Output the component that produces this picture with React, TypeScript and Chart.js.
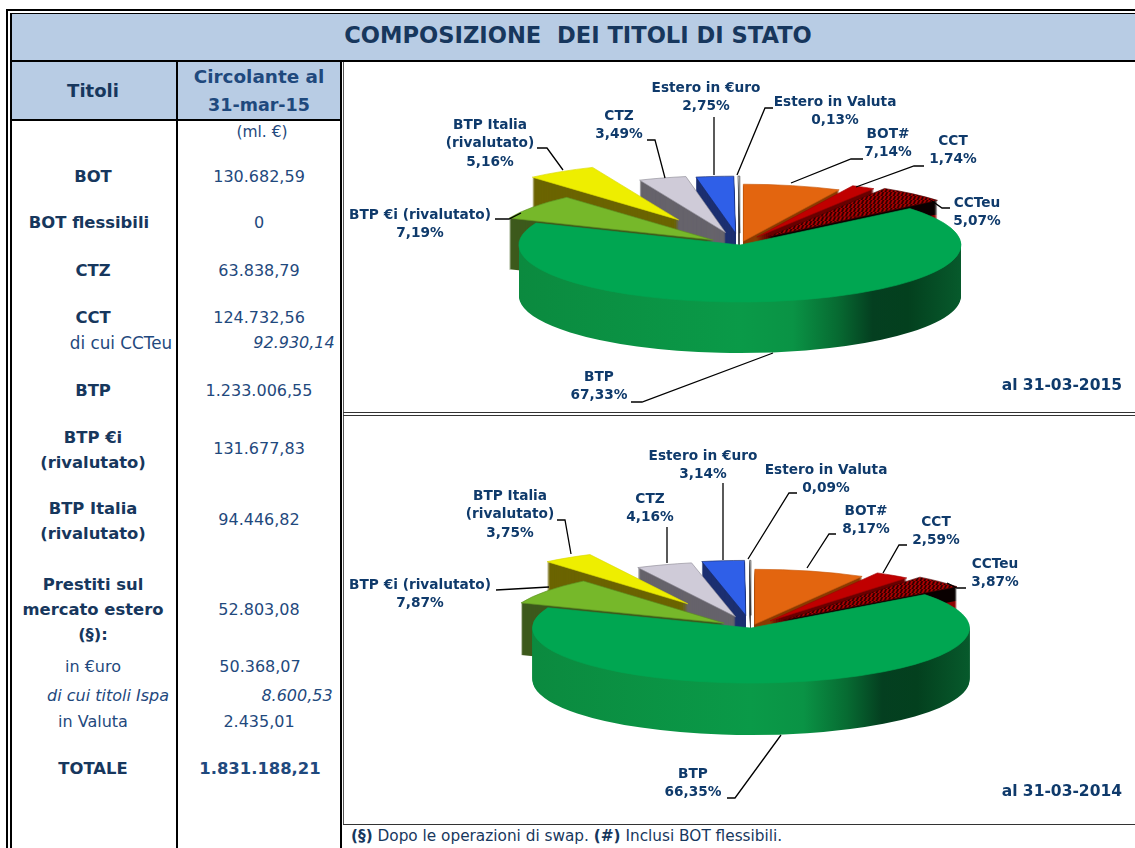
import React, { useEffect, useRef } from "react";
import { Chart, registerables } from "chart.js";

Chart.register(...registerables);

// ---- data ----
const sliceNames = ["BTP €i (rivalutato)", "BTP Italia (rivalutato)", "CTZ", "Estero in €uro", "Estero in Valuta", "BOT#", "CCT", "CCTeu", "BTP"];
const shares2015 = [7.19, 5.16, 3.49, 2.75, 0.13, 7.14, 1.74, 5.07, 67.33];
const shares2014 = [7.87, 3.75, 4.16, 3.14, 0.09, 8.17, 2.59, 3.87, 66.35];
const sliceLabels2015 = ["7,19%", "5,16%", "3,49%", "2,75%", "0,13%", "7,14%", "1,74%", "5,07%", "67,33%"];
const sliceLabels2014 = ["7,87%", "3,75%", "4,16%", "3,14%", "0,09%", "8,17%", "2,59%", "3,87%", "66,35%"];
const labelLines = [["BTP €i (rivalutato)"], ["BTP Italia", "(rivalutato)"], ["CTZ"], ["Estero in €uro"], ["Estero in Valuta"], ["BOT#"], ["CCT"], ["CCTeu"], ["BTP"]];

// ---- table ----
const tableTitle = "COMPOSIZIONE  DEI TITOLI DI STATO";
const footParts = [["(§)", true], [" Dopo le operazioni di swap. ", false], ["(#)", true], [" Inclusi BOT flessibili.", false]] as [string, boolean][];
// text, centre x, centre y, kind
const rowNames: [string, number, number, string][] = [
  ["BOT", 93, 176, "b"], ["BOT flessibili", 89, 222, "b"], ["CTZ", 93, 270, "b"], ["CCT", 93, 317, "b"],
  ["di cui CCTeu", 121, 342, "w"], ["BTP", 93, 390, "b"], ["BTP €i", 93, 437, "b"], ["(rivalutato)", 93, 462, "b"],
  ["BTP Italia", 93, 508, "b"], ["(rivalutato)", 93, 533, "b"], ["Prestiti sul", 93, 584, "b"], ["mercato estero", 93, 609, "b"],
  ["(§):", 93, 634, "b"], ["in €uro", 93, 666, "n"], ["di cui titoli Ispa", 108, 695, "i"], ["in Valuta", 93, 721, "n"], ["TOTALE", 93, 768, "b"],
];
const rowValues: [string, number, number, string][] = [
  ["(ml. €)", 262, 132, "s"], ["130.682,59", 259, 176, "n"], ["0", 259, 222, "n"], ["63.838,79", 259, 270, "n"], ["124.732,56", 259, 317, "n"],
  ["92.930,14", 294, 342, "i"], ["1.233.006,55", 259, 390, "n"], ["131.677,83", 259, 448, "n"], ["94.446,82", 259, 519, "n"],
  ["52.803,08", 259, 609, "n"], ["50.368,07", 260, 666, "n"], ["8.600,53", 297, 695, "i"], ["2.435,01", 259, 721, "n"], ["1.831.188,21", 260, 768, "bv"],
];

// ---- drawing configuration ----
const topColors = ["#76b82a", "#eeee00", "#cfcbd8", "#2f5fe8", "#ffffff", "#e3650f", "#c00000", "#c00000", "#00a651"];
const wallColors = ["#3d5a1c", "#6b6400", "#66636b", "#1c2f70", "#555555", "#8a3b00", "#6a0000", "#8e0000", "#00a651"];
const borderColors = ["#5c8f20", "#d8d800", "#8d8a95", "#14286b", "#222222", "#c85a0d", "#a00000", "#500000", "#00a651"];

const panel2015 = {
  originX: 344, originY: 63, width: 791, height: 349,
  cx: 740, cy: 245, r: 221, squash: 0.258, depth: 51,
  explode: [33, 115, 50, 46, 46, 15, 35, 42, 0],
  date: "al 31-03-2015", dateY: 386,
  labelX: [420, 490, 619, 706, 835, 888, 953, 977, 599],
  labelY: [215, 125, 116, 88, 102, 134, 141, 203, 377],
  leaders: [
    [[495, 219], [509, 219], [521, 213]], [[537, 148], [547, 148], [563, 170]], [[647, 140], [655, 140], [665, 178]],
    [[714, 117], [714, 175]], [[773, 108], [765, 108], [737, 175]], [[863, 159], [851, 159], [791, 183]],
    [[924, 166], [914, 166], [856, 187]], [[950, 208], [942, 208], [932, 201]], [[631, 402], [642, 402], [773, 353]],
  ],
};
const panel2014 = {
  originX: 344, originY: 416, width: 791, height: 408,
  cx: 751, cy: 628, r: 218.5, squash: 0.252, depth: 52,
  explode: [33, 115, 47, 50, 50, 15, 34, 45, 0],
  date: "al 31-03-2014", dateY: 792,
  labelX: [420, 510, 650, 703, 826, 866, 936, 995, 693],
  labelY: [585, 496, 499, 456, 470, 511, 522, 564, 774],
  leaders: [
    [[496, 590], [549, 587]], [[557, 520], [565, 520], [571, 554]], [[667, 527], [667, 563]],
    [[723, 483], [723, 560]], [[797, 493], [789, 493], [748, 559]], [[836, 534], [829, 534], [807, 568]],
    [[907, 545], [899, 545], [883, 573]], [[966, 588], [957, 588], [947, 583]], [[727, 798], [735, 798], [781, 735]],
  ],
};
const NAVY = "#17375d";
const BLUE = "#1f497d";
const LABEL_COLOR = "#0f3a6b";
const LABEL_FONT = 'bold 13.7px "DejaVu Sans"';

function hatch(squash: number) {
  const w = 4, h = Math.round(4 / squash);
  const c = document.createElement("canvas");
  c.width = w; c.height = h;
  const g = c.getContext("2d")!;
  g.fillStyle = "#c00000"; g.fillRect(0, 0, w, h);
  g.fillStyle = "#1a0000";
  g.beginPath(); g.moveTo(0, h); g.lineTo(w / 2, h); g.lineTo(w, 0); g.lineTo(w / 2, 0); g.closePath(); g.fill();
  return g.createPattern(c, "repeat")!;
}

function makePlugin(panel: any, values: number[], labels: string[]) {
  const mapX = (x: number) => x - panel.originX;
  const mapY = (y: number) => y - panel.originY;
  return {
    id: "pie3d",
    afterDatasetsUpdate(chart: any) {
      chart.getDatasetMeta(0).data.forEach((arc: any, i: number) => {
        const mid = (arc.startAngle + arc.endAngle) / 2;
        arc.x += Math.cos(mid) * panel.explode[i];
        arc.y += Math.sin(mid) * panel.explode[i];
      });
    },
    beforeDatasetsDraw(chart: any) {
      const ctx = chart.ctx;
      const a = chart.chartArea;
      const cx0 = (a.left + a.right) / 2, cy0 = (a.top + a.bottom) / 2;
      ctx.save();
      ctx.translate(mapX(panel.cx), mapY(panel.cy));
      ctx.scale(1, panel.squash);
      ctx.translate(-cx0, -cy0);
      const arcs = chart.getDatasetMeta(0).data;
      const grad = ctx.createLinearGradient(cx0 - panel.r, 0, cx0 + panel.r, 0);
      grad.addColorStop(0, "#0b8a3f"); grad.addColorStop(0.5, "#0a9a48"); grad.addColorStop(0.62, "#0a9345");
      grad.addColorStop(0.72, "#076b32"); grad.addColorStop(0.8, "#043f20"); grad.addColorStop(0.88, "#03401e"); grad.addColorStop(1, "#075a2c");
      // nearest the twelve o'clock direction first, the big slice last
      const north = (arc: any) => {
        const d = (arc.startAngle + arc.endAngle) / 2 + Math.PI / 2;
        const m = ((d % (2 * Math.PI)) + 2 * Math.PI) % (2 * Math.PI);
        return Math.min(m, 2 * Math.PI - m);
      };
      const order = arcs.map((_: any, i: number) => i).sort((p: number, q: number) => north(arcs[p]) - north(arcs[q]));
      order.splice(order.indexOf(arcs.length - 1), 1);
      order.push(arcs.length - 1);
      for (const i of order) {
        const arc = arcs[i];
        for (let d = panel.depth; d > 0; d--) {
          ctx.fillStyle = i === arcs.length - 1 ? grad : i === 7 && d <= 14 ? "#0a0000" : wallColors[i];
          const off = d / panel.squash;
          ctx.beginPath();
          ctx.moveTo(arc.x, arc.y + off);
          ctx.arc(arc.x, arc.y + off, arc.outerRadius, arc.startAngle, arc.endAngle);
          ctx.closePath();
          ctx.fill();
        }
      }
    },
    afterDatasetsDraw(chart: any) {
      chart.ctx.restore();
    },
    afterDraw(chart: any) {
      const ctx = chart.ctx;
      ctx.save();
      ctx.strokeStyle = "#000000";
      ctx.lineWidth = 1.3;
      panel.leaders.forEach((pts: number[][]) => {
        ctx.beginPath();
        pts.forEach((p, j) => (j ? ctx.lineTo(mapX(p[0]), mapY(p[1])) : ctx.moveTo(mapX(p[0]), mapY(p[1]))));
        ctx.stroke();
      });
      ctx.fillStyle = LABEL_COLOR;
      ctx.font = LABEL_FONT;
      ctx.textAlign = "center";
      ctx.textBaseline = "middle";
      labelLines.forEach((lines, i) => {
        const rows = [...lines, labels[i]];
        rows.forEach((t, j) => ctx.fillText(t, mapX(panel.labelX[i]), mapY(panel.labelY[i]) + j * 18.7));
      });
      ctx.font = 'bold 15.5px "DejaVu Sans"';
      ctx.textAlign = "right";
      ctx.fillText(panel.date, mapX(1122), mapY(panel.dateY));
      ctx.restore();
    },
  };
}

function Pie({ panel, values, labels }: { panel: any; values: number[]; labels: string[] }) {
  const ref = useRef<HTMLCanvasElement>(null);
  useEffect(() => {
    const before = values.slice(0, 5).reduce((s, v) => s + v, 0);
    const fills: any[] = [...topColors];
    fills[7] = hatch(panel.squash);
    const chart = new Chart(ref.current!, {
      type: "pie",
      data: {
        labels: sliceNames,
        datasets: [{
          data: values, backgroundColor: fills, borderColor: borderColors, borderWidth: 1, clip: false as any,
        }],
      },
      options: {
        animation: false,
        responsive: false,
        radius: panel.r,
        rotation: -before * 3.6,
        plugins: { legend: { display: false }, tooltip: { enabled: false }, title: { display: false } },
      } as any,
      plugins: [makePlugin(panel, values, labels)],
    });
    return () => chart.destroy();
  }, []);
  return (
    <canvas
      ref={ref}
      width={panel.width}
      height={panel.height}
      style={{ position: "absolute", left: panel.originX, top: panel.originY, width: panel.width, height: panel.height }}
    />
  );
}

const Box = ({ l, t, w, h, c = "#000" }: { l: number; t: number; w: number; h: number; c?: string }) => (
  <div style={{ position: "absolute", left: l, top: t, width: w, height: h, background: c }} />
);

function Cell({ text, x, y, kind }: { text: string; x: number; y: number; kind: string }) {
  const bold = kind === "b" || kind === "bv";
  return (
    <div
      style={{
        position: "absolute", left: x, top: y + 1, transform: "translate(-50%,-50%)", whiteSpace: "pre",
        fontFamily: '"DejaVu Sans"', fontWeight: bold ? 700 : 400, fontStyle: kind === "i" ? "italic" : "normal",
        fontSize: kind === "s" ? 15.5 : bold ? 16.4 : kind === "w" ? 16.8 : 16,
        color: kind === "b" ? NAVY : BLUE, lineHeight: 1,
      }}
    >
      {text}
    </div>
  );
}

const headStyle = (size: number, color: string): React.CSSProperties => ({
  position: "absolute", transform: "translate(-50%,-50%)", whiteSpace: "pre", fontFamily: '"DejaVu Sans"',
  fontWeight: 700, fontSize: size, color, lineHeight: 1,
});

export default function App() {
  return (
    <div style={{ position: "absolute", left: 0, top: 0, width: 1135, height: 848, overflow: "hidden", background: "#fff" }}>
      <Box l={11} t={14} w={1124} h={46} c="#b8cce4" />
      <Box l={11} t={62} w={165} h={57} c="#b8cce4" />
      <Box l={178} t={62} w={163} h={57} c="#b8cce4" />
      <Box l={6} t={9} w={1129} h={2} />
      <Box l={10} t={13} w={1125} h={1} />
      <Box l={6} t={9} w={2} h={839} />
      <Box l={10} t={13} w={2} h={835} />
      <Box l={10} t={60} w={1125} h={2} />
      <Box l={10} t={119} w={332} h={2} />
      <Box l={176} t={60} w={2} h={788} />
      <Box l={340} t={60} w={2} h={788} />
      <Box l={343} t={62} w={1} h={763} c="#555" />
      <Box l={343} t={412} w={792} h={1} c="#333" />
      <Box l={343} t={415} w={792} h={1} c="#333" />
      <Box l={343} t={824} w={792} h={1} c="#333" />
      <div style={{ ...headStyle(22.6, NAVY), left: 578, top: 35 }}>{tableTitle}</div>
      <div style={{ ...headStyle(18, NAVY), left: 93, top: 91 }}>Titoli</div>
      <div style={{ ...headStyle(18.4, BLUE), left: 259, top: 77 }}>Circolante al</div>
      <div style={{ ...headStyle(17.5, BLUE), left: 259, top: 106 }}>31-mar-15</div>
      {rowNames.map((r, i) => <Cell key={"n" + i} text={r[0]} x={r[1]} y={r[2]} kind={r[3]} />)}
      {rowValues.map((r, i) => <Cell key={"v" + i} text={r[0]} x={r[1]} y={r[2]} kind={r[3]} />)}
      <Pie panel={panel2015} values={shares2015} labels={sliceLabels2015} />
      <Pie panel={panel2014} values={shares2014} labels={sliceLabels2014} />
      <div style={{ position: "absolute", left: 351, top: 837, transform: "translateY(-50%)", whiteSpace: "pre", fontFamily: '"DejaVu Sans"', fontSize: 15.3, color: NAVY, lineHeight: 1 }}>
        {footParts.map((p, i) => <span key={i} style={{ fontWeight: p[1] ? 700 : 400 }}>{p[0]}</span>)}
      </div>
    </div>
  );
}
